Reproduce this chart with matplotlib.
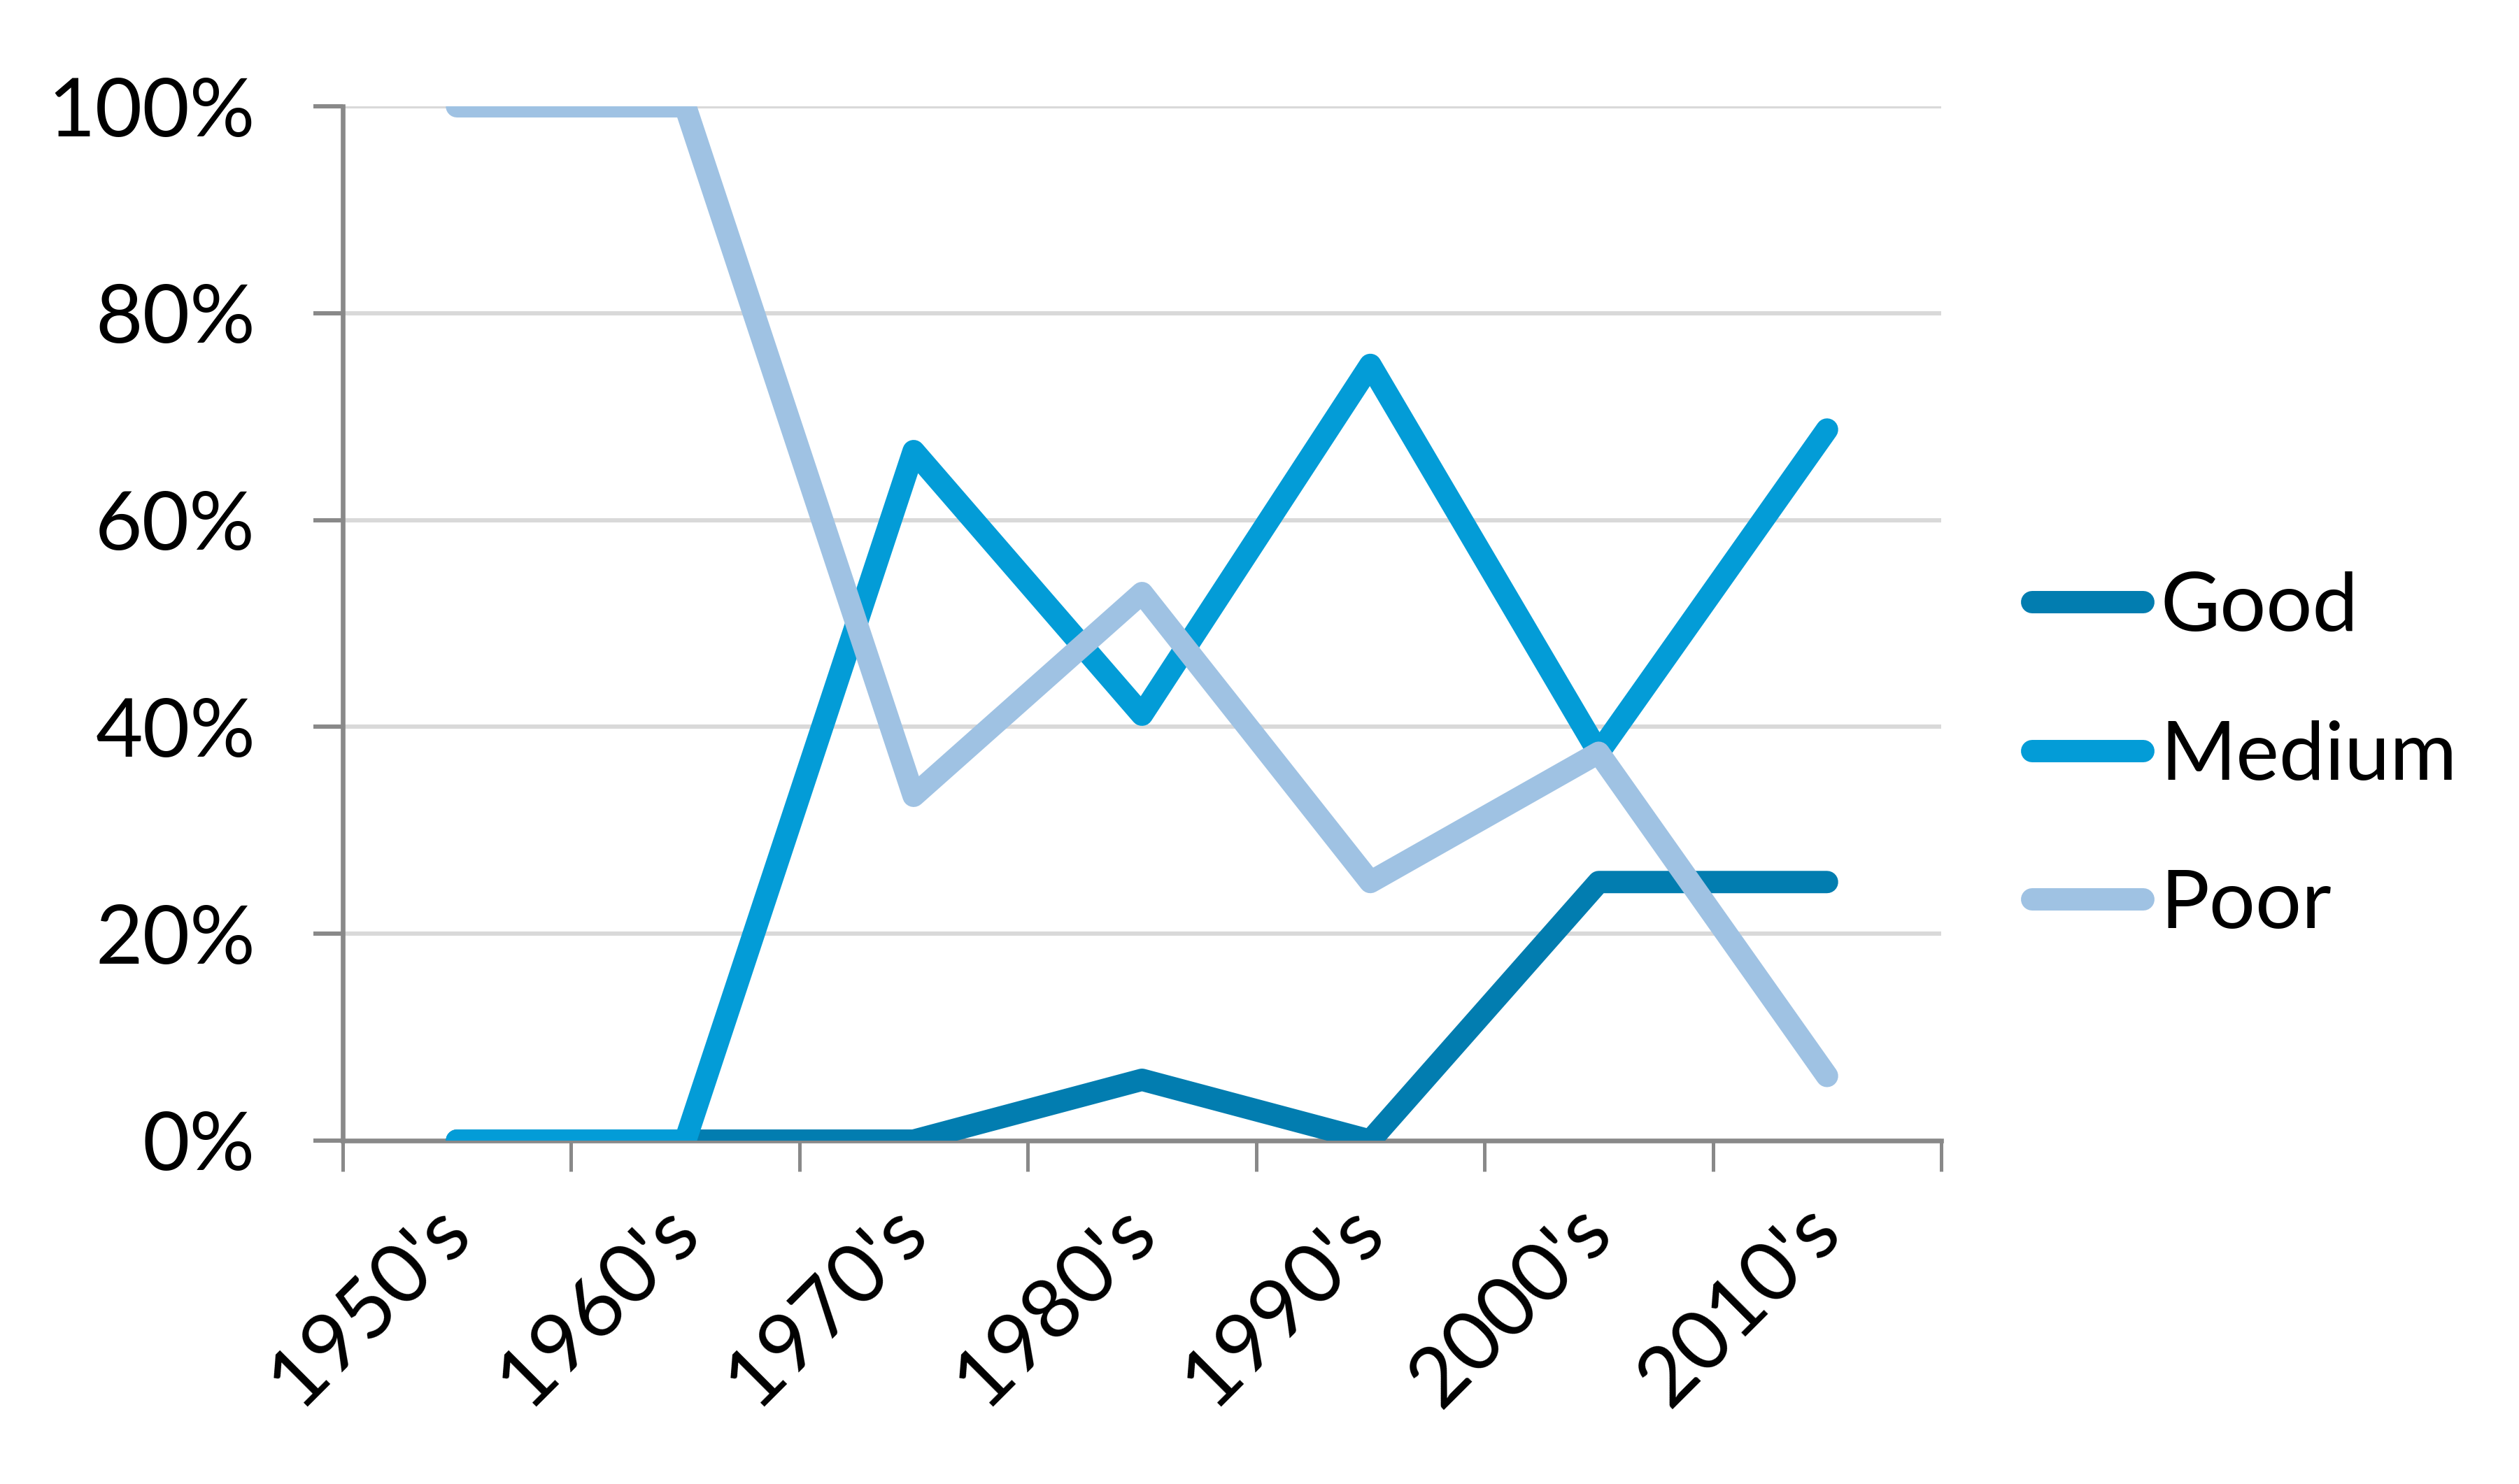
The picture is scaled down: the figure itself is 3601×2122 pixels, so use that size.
import matplotlib as mpl

mpl.use("Agg")
import matplotlib.pyplot as plt
from matplotlib.ticker import FixedLocator, PercentFormatter

# Share of sites per condition class, by decade
decades = ["1950's", "1960's", "1970's", "1980's", "1990's", "2000's", "2010's"]
good = [0.0, 0.0, 0.0, 1 / 17, 0.0, 0.25, 0.25]
medium = [0.0, 0.0, 2 / 3, 7 / 17, 0.75, 0.375, 0.6875]
poor = [1.0, 1.0, 1 / 3, 9 / 17, 0.25, 0.375, 0.0625]

series = [("Good", good, "#027DB0"), ("Medium", medium, "#039CD7"), ("Poor", poor, "#9FC2E3")]

plt.rcParams["font.family"] = ["Lato", "DejaVu Sans"]

DPI = 200
fig = plt.figure(figsize=(3601 / DPI, 2122 / DPI), dpi=DPI)
ax = fig.add_axes([490 / 3601, 1 - 1631 / 2122, (2775 - 490) / 3601, (1631 - 152) / 2122])

x = [i + 0.5 for i in range(len(decades))]
for name, vals, color in series:
    ax.plot(x, vals, color=color, lw=11.5, solid_capstyle="round", solid_joinstyle="round",
            label=name, zorder=3)

ax.set_xlim(0, len(decades))
ax.set_ylim(0, 1)

# y axis
ax.yaxis.set_major_locator(FixedLocator([0, 0.2, 0.4, 0.6, 0.8, 1.0]))
ax.yaxis.set_major_formatter(PercentFormatter(1.0, decimals=0))
ax.grid(axis="y", color="#d9d9d9", lw=2.2, zorder=0)
ax.tick_params(axis="y", length=15, width=2.2, color="#898989", pad=30, labelsize=42)

# x axis: ticks between categories, labels at category centres
ax.xaxis.set_major_locator(FixedLocator(list(range(len(decades) + 1))))
ax.xaxis.set_minor_locator(FixedLocator(x))
ax.set_xticklabels([], minor=False)
ax.set_xticklabels(decades, minor=True)
ax.tick_params(axis="x", which="major", length=16, width=1.8, color="#898989")
ax.tick_params(axis="x", which="minor", length=0, pad=40, labelsize=43)
for lbl in ax.get_xticklabels(minor=True):
    lbl.set_rotation(45)
    lbl.set_ha("right")
    lbl.set_va("center")
    lbl.set_rotation_mode("anchor")

for side in ("top", "right"):
    ax.spines[side].set_visible(False)
for side in ("left", "bottom"):
    ax.spines[side].set_color("#898989")
    ax.spines[side].set_linewidth(2.4)
ax.set_axisbelow(True)

ax.legend(loc="center left", bbox_to_anchor=(2905 / 3601, 1 - 1082 / 2122),
          bbox_transform=fig.transFigure, frameon=False, fontsize=42,
          handlelength=1.36, handletextpad=0.21, labelspacing=0.92,
          borderpad=0, borderaxespad=0)

fig.savefig("out.png", dpi=DPI)
